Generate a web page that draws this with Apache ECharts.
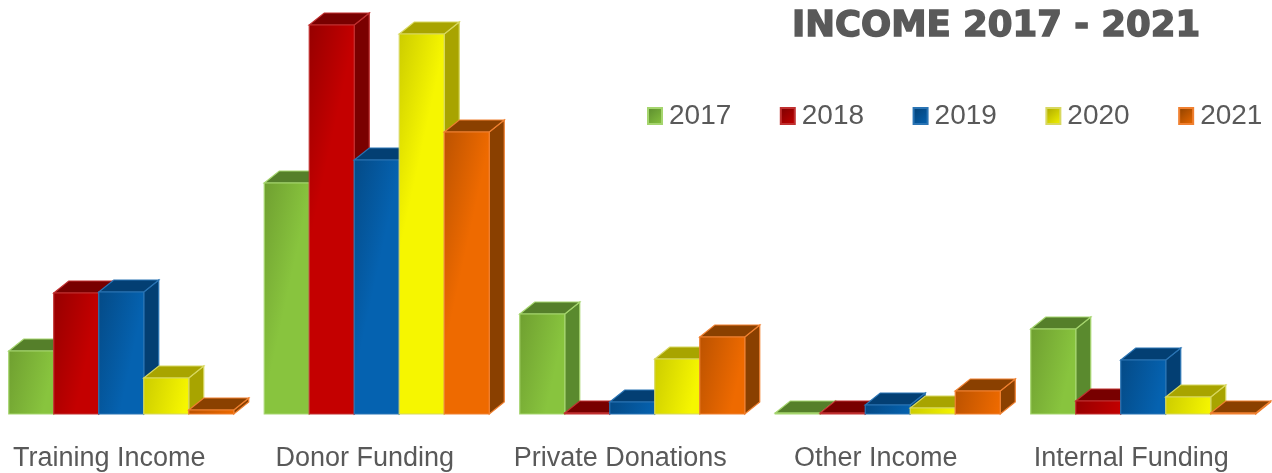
<!DOCTYPE html>
<html><head><meta charset="utf-8">
<style>html,body{margin:0;padding:0;background:#fff}#c{width:1272px;height:473px}</style>
<script src="https://cdn.jsdelivr.net/npm/echarts@6/dist/echarts.min.js"></script>
</head><body><div id="c"></div>
<script>
const categories = ['Training Income','Donor Funding','Private Donations','Other Income','Internal Funding'];
const years = ['2017','2018','2019','2020','2021'];
const v2017 = [63,231,100,1,85];
const v2018 = [121,389,1,1,13];
const v2019 = [122,254,12,9,54];
const v2020 = [36,380,55,6,17];
const v2021 = [4,282,77,23,1];
const allValues = [v2017,v2018,v2019,v2020,v2021];
// [front dark, front bright, top, side, border]
const palette = [
  ['#6f9f30','#88c43e','#557f2a','#5a8a2e','#a5d56e'],
  ['#960000','#c40000','#780000','#7a0000','#c03030'],
  ['#044a86','#0562b0','#033f73','#033f73','#2a74b4'],
  ['#cccc00','#f6f600','#a8a400','#a8a400','#d8d860'],
  ['#bb5200','#ee6a00','#8a4000','#8a4000','#f08030']
];
const BAR = 45, DX = 15, DY = 12, START = -100.5;

function frontGrad(p, h){
  return new echarts.graphic.LinearGradient(0,0,1,Math.min(1,10/Math.max(h,1)),[{offset:0,color:p[0]},{offset:1,color:p[1]}]);
}
function makeRender(si){
  return function(params, api){
    const p = palette[si];
    const base = api.coord([api.value(0), 0]);
    const top = api.coord([api.value(0), api.value(1)]);
    const x = base[0] + START + si*BAR, y0 = base[1], y1 = top[1], w = BAR;
    const edge = {stroke:p[4], lineWidth:1.2};
    return {type:'group', children:[
      {type:'polygon', shape:{points:[[x+w,y1],[x+w+DX,y1-DY],[x+w+DX,y0-DY],[x+w,y0]]}, style:{fill:p[3],...edge}},
      {type:'polygon', shape:{points:[[x,y1],[x+DX,y1-DY],[x+w+DX,y1-DY],[x+w,y1]]}, style:{fill:p[2],...edge}},
      {type:'rect', shape:{x:x,y:y1,width:w,height:y0-y1}, style:{fill:frontGrad(p,y0-y1),...edge}}
    ]};
  };
}
const chart = echarts.init(document.getElementById('c'));
chart.setOption({
  animation:false,
  backgroundColor:'#fff',
  title:{text:'INCOME 2017 - 2021', left:792, top:9, padding:0,
    textStyle:{fontFamily:'DejaVu Sans',fontWeight:'bold',fontSize:35.5,color:'#595959',textBorderColor:'#595959',textBorderWidth:1.5}},
  legend:{left:647, top:102, padding:0, width:640, itemWidth:14, itemHeight:16, itemGap:48.5, icon:'rect',
    textStyle:{fontFamily:'Liberation Sans',fontSize:28,color:'#595959',padding:[0,0,0,2]},
    data:years},
  grid:{left:-18.5, right:13, top:14, bottom:59, outerBoundsMode:'none'},
  xAxis:{type:'category', data:categories, axisLine:{show:false}, axisTick:{show:false}, splitLine:{show:false},
    axisLabel:{interval:0, margin:31, fontFamily:'Liberation Sans', fontSize:27, color:'#595959'}},
  yAxis:{type:'value', min:0, max:400, show:false, splitLine:{show:false}},
  series: years.map((name,si)=>({
    name, type:'custom', clip:false,
    renderItem:makeRender(si),
    encode:{x:0,y:1},
    itemStyle:{color:new echarts.graphic.LinearGradient(0,0,1,1,[{offset:0,color:palette[si][3]},{offset:1,color:palette[si][1]}]), borderColor:palette[si][4], borderWidth:1.5},
    data:categories.map((c,i)=>[i,allValues[si][i]])
  }))
});
</script></body></html>
